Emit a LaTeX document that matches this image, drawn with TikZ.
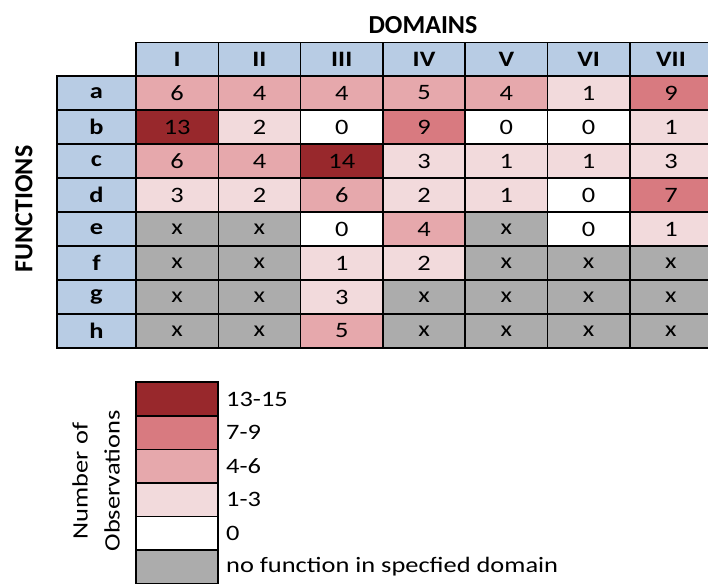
\documentclass[tikz,border=0pt]{standalone}
\usepackage{fontspec}
\setmainfont{Carlito}
\newfontfamily\widefont[FakeStretch=1.2]{Carlito}
\definecolor{hdrblue}{RGB}{184,204,228}
\definecolor{czero}{RGB}{255,255,255}
\definecolor{cone}{RGB}{242,218,220}
\definecolor{cfour}{RGB}{230,168,172}
\definecolor{cseven}{RGB}{216,122,128}
\definecolor{cthirteen}{RGB}{152,40,44}
\definecolor{cgray}{RGB}{172,172,172}
\tikzset{
  cellbox/.style={draw=black, line width=1.6pt, minimum width=82.3pt, minimum height=34pt, inner sep=0pt, font=\widefont\fontsize{22}{22}\selectfont},
  hdrbox/.style={cellbox, fill=hdrblue, font=\widefont\fontsize{22}{22}\selectfont\bfseries},
  rowbox/.style={cellbox, fill=hdrblue, minimum width=79pt, font=\widefont\fontsize{22}{22}\selectfont\bfseries},
  legbox/.style={draw=black, line width=1.6pt, minimum width=82pt, minimum height=33.6pt, inner sep=0pt},
  legtext/.style={anchor=west, inner sep=0pt, font=\widefont\fontsize{22}{22}\selectfont},
  c0/.style={fill=czero}, c1/.style={fill=cone}, c4/.style={fill=cfour},
  c7/.style={fill=cseven}, c13/.style={fill=cthirteen}, cx/.style={fill=cgray}
}
\begin{document}
\begin{tikzpicture}[x=1pt,y=-1pt]
\useasboundingbox (0,0) rectangle (708,583);
\fill[white] (0,0) rectangle (708,583);
\begin{scope}
\clip (0,0) rectangle (708,583);
% title
\node[font=\fontsize{26}{26}\selectfont\bfseries] (domains) at (423,25) {DOMAINS};
\node[font=\fontsize{26}{26}\selectfont\bfseries, rotate=90] (functions) at (24,209) {FUNCTIONS};
% header row
\foreach \j/\h in {1/I,2/II,3/III,4/IV,5/V,6/VI,7/VII}{
  \node[hdrbox] (h\j) at ({136+41.15+(\j-1)*82.3},59.5) {\h};
}
% body
\foreach \i/\lab/\vals in {
  1/a/{6/c4,4/c4,4/c4,5/c4,4/c4,1/c1,9/c7},
  2/b/{13/c13,2/c1,0/c0,9/c7,0/c0,0/c0,1/c1},
  3/c/{6/c4,4/c4,14/c13,3/c1,1/c1,1/c1,3/c1},
  4/d/{3/c1,2/c1,6/c4,2/c1,1/c1,0/c0,7/c7},
  5/e/{x/cx,x/cx,0/c0,4/c4,x/cx,0/c0,1/c1},
  6/f/{x/cx,x/cx,1/c1,2/c1,x/cx,x/cx,x/cx},
  7/g/{x/cx,x/cx,3/c1,x/cx,x/cx,x/cx,x/cx},
  8/h/{x/cx,x/cx,5/c4,x/cx,x/cx,x/cx,x/cx}}{
  \node[rowbox] (r\i) at (96.5,{93+(\i-1)*34}) {\lab};
  \foreach \v/\c [count=\j] in \vals {
    \node[cellbox, \c] (cell\i\j) at ({136+41.15+(\j-1)*82.3},{93+(\i-1)*34}) {\v};
  }
}
% legend
\foreach \k/\c/\t in {1/c13/13-15, 2/c7/7-9, 3/c4/4-6, 4/c1/1-3, 5/c0/0, 6/cx/no function in specfied domain}{
  \node[legbox, \c] (leg\k) at (177,{399+(\k-1)*33.6}) {};
  \node[legtext] (legt\k) at (226,{399+(\k-1)*33.6}) {\t};
}
\node[rotate=90, align=center, font=\widefont\fontsize{22}{32}\selectfont] (obs) at (96,481) {Number of\\Observations};
\end{scope}
\end{tikzpicture}
\end{document}
